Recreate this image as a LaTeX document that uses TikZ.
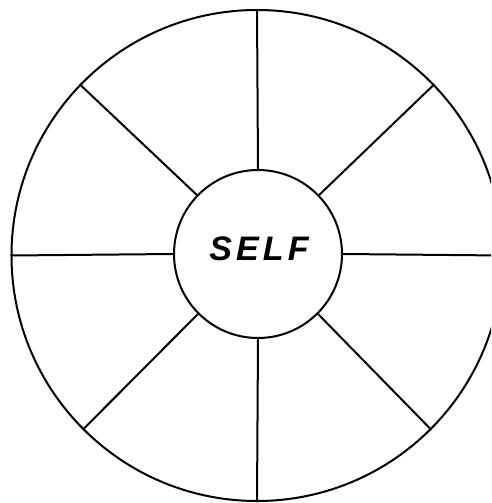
\documentclass[tikz,border=0pt]{standalone}
\usepackage{fontspec}
\setmainfont{Liberation Sans}
\newfontfamily\selffont[LetterSpace=12]{Liberation Sans}
\begin{document}
\begin{tikzpicture}[x=1pt,y=-1pt,
  ring/.style={draw=black,circle,line width=2pt,inner sep=0pt},
  spoke/.style={draw=black,line width=2pt},
  label/.style={font=\selffont\bfseries\itshape\fontsize{34}{40}\selectfont,inner sep=0pt}]
\useasboundingbox (0,0) rectangle (491,503);
\begin{scope}
\clip (0,0) rectangle (491,503);
\node[ring,minimum size=491pt] (outer) at (257,255.5) {};
\node[ring,minimum size=168pt] (inner) at (258,254) {};
\node[label] (self) at (259,249) {SELF};
\foreach \a/\b in {90/90.5,136/136.4,180/180,225/225,270/270.2,315/315,0/0.6,44.6/44.6}{
  \draw[spoke] (inner.\a) -- (outer.\b);
}
\end{scope}
\end{tikzpicture}
\end{document}
